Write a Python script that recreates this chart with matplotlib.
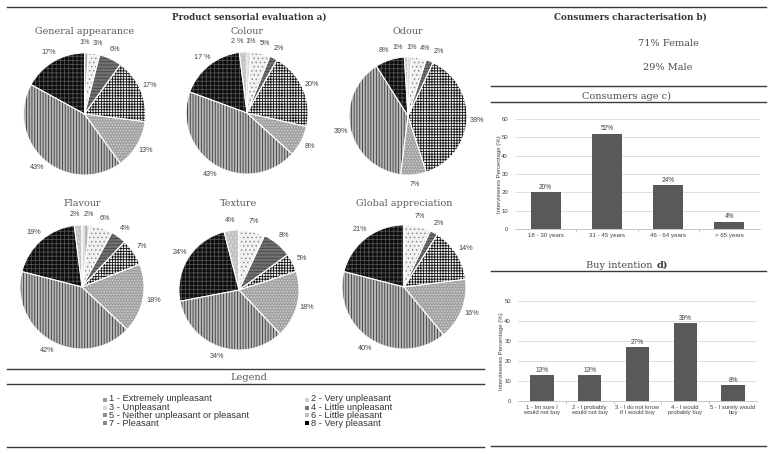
import matplotlib
matplotlib.use("Agg")
import matplotlib.pyplot as plt
from matplotlib.lines import Line2D
from matplotlib.patches import Rectangle
import numpy as np

# ---------------- data ----------------
categories = ["1 - Extremely unpleasant", "2 - Very unpleasant", "3 - Unpleasant",
              "4 - Little unpleasant", "5 - Neither unpleasant or pleasant",
              "6 - Little pleasant", "7 - Pleasant", "8 - Very pleasant"]
pie_titles = ["General appearance", "Colour", "Odour", "Flavour", "Texture", "Global appreciation"]
# values per category 1..8 (percent)
general_appearance = [0, 1, 3, 6, 17, 13, 43, 17]
colour = [2, 1, 5, 2, 20, 8, 43, 17]
odour = [1, 1, 4, 2, 38, 7, 39, 8]
flavour = [2, 2, 6, 4, 7, 18, 42, 19]
texture = [4, 0, 7, 8, 5, 18, 34, 24]
global_appreciation = [0, 0, 7, 2, 14, 16, 40, 21]
# slices drawn clockwise from 12 o'clock in this category order
slice_order = [2, 3, 4, 5, 6, 7, 8, 1]
spaced_labels = {("Colour", 1), ("Colour", 8)}  # labels written as "x %"

female_pct = 71
male_pct = 29

age_groups = ["18 - 30 years", "31 - 45 years", "46 - 64 years", "> 65 years"]
age_values = [20, 52, 24, 4]

buy_labels = ["1 - Im sure I\nwould not buy", "2 - I probably\nwould not buy",
              "3 - I do not know\nif I would buy", "4 - I would\nprobably buy",
              "5 - I surely would\nbuy"]
buy_values = [13, 13, 27, 39, 8]

# ---------------- style ----------------
W, H = 772, 454
plt.rcParams['hatch.linewidth'] = 0.6
SANS = "Liberation Sans"
SERIF = "DejaVu Serif"

# category -> (facecolor, hatchcolor, hatch)
patterns = {
    1: ("#c4c4c4", "#e2e2e2", "...."),
    2: ("#dedede", "#7a7a7a", "|||"),
    3: ("#f2f2f2", "#8e8e8e", "...."),
    4: ("#707070", "#454545", "-----"),
    5: ("#f4f4f4", "#141414", "++++++"),
    6: ("#a2a2a2", "#d6d6d6", "......"),
    7: ("#b8b8b8", "#3a3a3a", "||||||"),
    8: ("#0c0c0c", "#505050", "++++"),
}
legend_colors = {1: "#9a9a9a", 2: "#cfcfcf", 3: "#dadada", 4: "#767676",
                 5: "#8c8c8c", 6: "#bdbdbd", 7: "#8a8a8a", 8: "#000000"}

fig = plt.figure(figsize=(W / 100, H / 100), dpi=100)
fig.patch.set_facecolor("white")


def fx(x):
    return x / W


def fy(y):
    return 1 - y / H


def hline(y, x0, x1):
    fig.add_artist(Line2D([fx(x0), fx(x1)], [fy(y), fy(y)], color="#3a3a3a", lw=1.0))


def draw_pie(cx, cy, r, title, values, title_y):
    ax = fig.add_axes([fx(cx - r), fy(cy + r), 2 * r / W, 2 * r / H])
    vals = [values[c - 1] for c in slice_order]
    wedges, _ = ax.pie(vals, startangle=90, counterclock=False, radius=1,
                       wedgeprops=dict(linewidth=0))
    for w, c in zip(wedges, slice_order):
        fc, hc, ht = patterns[c]
        w.set_facecolor(fc)
        w.set_edgecolor(hc)
        w.set_hatch(ht)
        w.set_linewidth(0)
    ax.pie(vals, startangle=90, counterclock=False, radius=1,
           wedgeprops=dict(fill=False, edgecolor="white", linewidth=0.7))
    ax.set_xlim(-1, 1)
    ax.set_ylim(-1, 1)
    ax.axis("off")
    # labels
    total = float(sum(vals))
    cum = 0.0
    labs = []
    for v, c in zip(vals, slice_order):
        if v > 0:
            mid = np.deg2rad(90 - 360 * (cum + v / 2) / total)
            rl = 1.17
            txt = f"{v} %" if (title, c) in spaced_labels else f"{v}%"
            labs.append([rl * np.cos(mid), rl * np.sin(mid), txt])
        cum += v
    # spread crowded labels near the top
    top = sorted([l for l in labs if l[1] > 0.6], key=lambda l: l[0])
    gap = 0.23
    for _ in range(30):
        for a, b in zip(top[:-1], top[1:]):
            d = b[0] - a[0]
            if d < gap:
                s = (gap - d) / 2
                a[0] -= s
                b[0] += s
    for x, y, t in labs:
        ax.text(x, y, t, ha="center", va="center", fontsize=5.2, family=SANS,
                color="#404040", clip_on=False)
    fig.text(fx(cx), fy(title_y), title, ha="center", va="center", fontsize=6.9,
             family=SERIF, color="#5a5a5a")


pie_data = [general_appearance, colour, odour, flavour, texture, global_appreciation]
pie_geom = [(84.5, 114, 61, 32), (247, 113, 61, 32), (408, 116, 59, 32),
            (82, 287, 62, 203), (239, 290, 60, 203), (404, 287, 62, 203)]
for (cx, cy, r, ty), t, d in zip(pie_geom, pie_titles, pie_data):
    draw_pie(cx, cy, r, t, d, ty)

# ---------------- headers and lines ----------------
hline(7, 7, 766)
fig.text(fx(249), fy(17), "Product sensorial evaluation a)", ha="center", va="center",
         fontsize=6.3, family=SERIF, weight="bold", color="#333333")
fig.text(fx(630), fy(17), "Consumers characterisation b)", ha="center", va="center",
         fontsize=6.3, family=SERIF, weight="bold", color="#333333")
fig.text(fx(668), fy(44), f"{female_pct}% Female", ha="center", va="center",
         fontsize=7, family=SERIF, color="#4a4a4a")
fig.text(fx(668), fy(67), f"{male_pct}% Male", ha="center", va="center",
         fontsize=7, family=SERIF, color="#4a4a4a")
hline(86, 491, 766)
fig.text(fx(626), fy(96), "Consumers age c)", ha="center", va="center",
         fontsize=7, family=SERIF, color="#4a4a4a")
hline(102, 491, 766)
fig.text(fx(656), fy(265), "Buy intention ", ha="right", va="center",
         fontsize=7, family=SERIF, color="#4a4a4a")
fig.text(fx(657), fy(265), "d)", ha="left", va="center",
         fontsize=7, family=SERIF, weight="bold", color="#333333")
hline(271, 491, 766)
hline(446, 491, 766)

hline(369, 7, 484)
fig.text(fx(249), fy(377), "Legend", ha="center", va="center",
         fontsize=7, family=SERIF, color="#5a5a5a")
hline(384, 7, 484)
hline(447, 7, 484)

# legend entries (row-wise, two columns); each column is one multi-line text
col_x = [103, 305]
row_y = [400, 407.6, 415.2, 422.8]
for col in range(2):
    names = categories[col::2]
    for k in range(len(names)):
        cat = col + 1 + 2 * k
        fig.add_artist(Rectangle((fx(col_x[col]), fy(row_y[k] + 2)), 4 / W, 4 / H,
                                 transform=fig.transFigure,
                                 facecolor=legend_colors[cat], edgecolor="none"))
    fig.text(fx(col_x[col] + 6), fy((row_y[0] + row_y[-1]) / 2), "\n".join(names),
             ha="left", va="center", fontsize=6.7, family=SANS, color="#333333",
             linespacing=0.9)


# ---------------- bar charts ----------------
def bar_chart(left, right, y0, ytop, labels, values, ymax, ylab_x, wrap_font):
    ax = fig.add_axes([fx(left), fy(y0), (right - left) / W, (y0 - ytop) / H])
    x = np.arange(len(values))
    bars = ax.bar(x, values, width=0.49, color="#595959", zorder=3)
    ax.set_xlim(-0.5, len(values) - 0.5)
    ax.set_ylim(0, ymax)
    ax.set_yticks(np.arange(0, ymax + 1, 10))
    ax.yaxis.grid(True, color="#d9d9d9", lw=0.6, zorder=0)
    for s in ["top", "right", "left"]:
        ax.spines[s].set_visible(False)
    ax.spines["bottom"].set_color("#bfbfbf")
    ax.spines["bottom"].set_linewidth(0.6)
    ax.set_xticks(x)
    ax.set_xticklabels(labels, fontsize=wrap_font, family=SANS, color="#404040",
                       linespacing=1.0)
    ax.set_xticks(np.arange(0.5, len(values) - 0.5, 1), minor=True)
    ax.tick_params(axis="x", which="major", length=0, pad=3)
    ax.tick_params(axis="x", which="minor", length=2, color="#bfbfbf", width=0.6)
    ax.tick_params(axis="y", length=0, labelsize=4.3, labelcolor="#404040", pad=5)
    for lab in ax.get_yticklabels():
        lab.set_family(SANS)
    for b, v in zip(bars, values):
        ax.text(b.get_x() + b.get_width() / 2, v + ymax * 0.012, f"{v}%",
                ha="center", va="bottom", fontsize=4.7, family=SANS, color="#404040")
    fig.text(fx(ylab_x), fy((y0 + ytop) / 2), "Interviewees Percentage (%)",
             rotation=90, ha="center", va="center", fontsize=4.3, family=SANS,
             color="#404040")
    return ax


bar_chart(515, 760, 229, 119, age_groups, age_values, 60, 500, 4.4)
bar_chart(518, 757, 401, 301, buy_labels, buy_values, 50, 501, 4.3)

fig.savefig("out.png", dpi=100, facecolor="white")
